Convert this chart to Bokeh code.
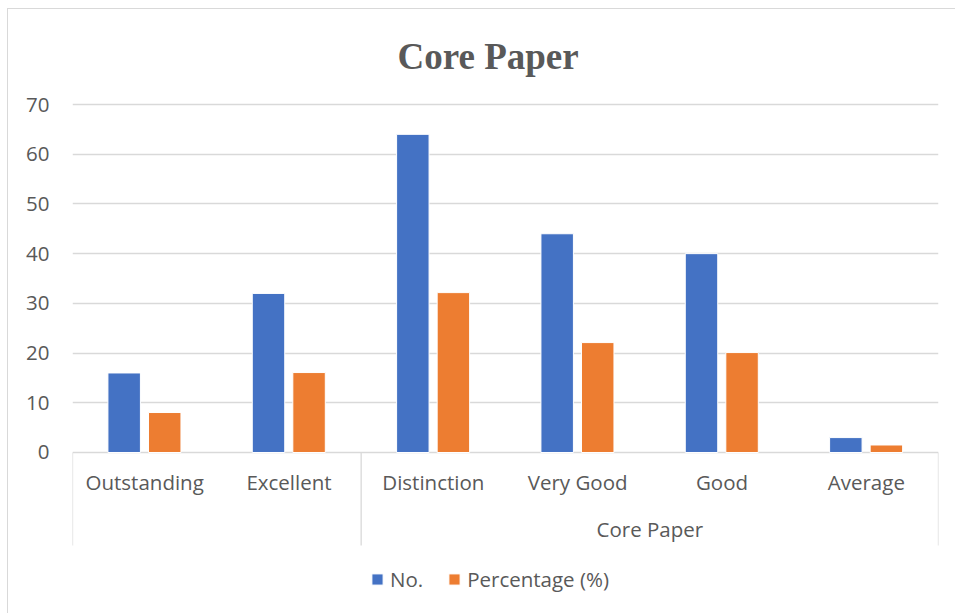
from bokeh.plotting import figure
from bokeh.models import FactorRange, Range1d, FixedTicker, ColumnDataSource, Legend, LegendItem
from bokeh.transform import dodge
from bokeh.core.properties import value
from bokeh.embed import file_html
from bokeh.resources import INLINE

# ---- data ----
categories = ["Outstanding", "Excellent", "Distinction", "Very Good", "Good", "Average"]
groups = ["", "", "Core Paper", "Core Paper", "Core Paper", "Core Paper"]
no_values = [16, 32, 64, 44, 40, 3]
pct_values = [8.04, 16.08, 32.16, 22.11, 20.10, 1.51]
y_ticks = [0, 10, 20, 30, 40, 50, 60, 70]
series_names = ["No.", "Percentage (%)"]
title_text = "Core Paper"
group_label = "Core Paper"

# ---- style ----
BLUE = "#4472C4"
ORANGE = "#ED7D31"
GRAY_TXT = "#595959"
GRID = "#d9d9d9"
FONT = "Open Sans"
FS = "20.5px"

factors = list(zip(groups, categories))
src = ColumnDataSource(dict(x=factors, no=no_values, pct=pct_values, label=categories))

W, H = 948, 605
x_range = FactorRange(*factors, range_padding=0, factor_padding=0, group_padding=0,
                      subgroup_padding=0)
y_range = Range1d(-32.59, 71.21)

p = figure(width=W, height=H, x_range=x_range, y_range=y_range,
           output_backend="svg", toolbar_location=None, x_axis_type=None,
           min_border_left=64, min_border_right=18, min_border_top=89, min_border_bottom=0,
           outline_line_color=None)
p.styles = {"margin-left": "7px", "margin-top": "8px",
            "border-left": "1px solid #d9d9d9", "border-top": "1px solid #d9d9d9"}

p.title.text = title_text
p.title.align = "left"
p.title.text_font = "Liberation Serif"
p.title.text_font_style = "bold"
p.title.text_font_size = "37px"
p.title.text_color = GRAY_TXT
p.title.offset = 325
p.title.standoff = 44

p.xgrid.visible = False
p.ygrid.ticker = FixedTicker(ticks=y_ticks)
p.ygrid.grid_line_color = GRID
p.ygrid.grid_line_width = 1.3

ax = p.yaxis[0]
ax.ticker = FixedTicker(ticks=y_ticks)
ax.bounds = (min(y_ticks), max(y_ticks))
ax.axis_line_color = None
ax.major_tick_line_color = None
ax.minor_tick_line_color = None
ax.major_tick_in = 0
ax.major_tick_out = 0
ax.major_label_standoff = 23
ax.major_label_text_font = FONT
ax.major_label_text_font_size = FS
ax.major_label_text_color = GRAY_TXT

r1 = p.vbar(x=dodge("x", -0.142, range=p.x_range), top="no", width=0.225, source=src,
            fill_color=BLUE, line_color="white", line_width=1)
r2 = p.vbar(x=dodge("x", 0.139, range=p.x_range), top="pct", width=0.225, source=src,
            fill_color=ORANGE, line_color="white", line_width=1)

# category labels
p.text(x="x", y=-5.9, text="label", source=src, text_font=value(FONT),
       text_font_size=FS, text_color=GRAY_TXT, text_align="center",
       text_baseline="middle")
# group label
gsrc = ColumnDataSource(dict(x=[group_label], t=[group_label]))
p.text(x="x", y=-15.3, text="t", source=gsrc, text_font=value(FONT),
       text_font_size=FS, text_color=GRAY_TXT, text_align="center",
       text_baseline="middle")

# separator lines of the multi-level axis
sep_left = ColumnDataSource(dict(x=[factors[0], factors[2]]))
sep_right = ColumnDataSource(dict(x=[factors[-1]]))
p.segment(x0=dodge("x", -0.5, range=p.x_range), x1=dodge("x", -0.5, range=p.x_range),
          y0=0, y1=-18.7, source=sep_left, line_color=GRID, line_width=1.3)
p.segment(x0=dodge("x", 0.5, range=p.x_range), x1=dodge("x", 0.5, range=p.x_range),
          y0=0, y1=-18.7, source=sep_right, line_color=GRID, line_width=1.3)

legend = Legend(items=[LegendItem(label=series_names[0], renderers=[r1]),
                       LegendItem(label=series_names[1], renderers=[r2])],
                orientation="horizontal", location=(298, 21),
                glyph_width=14, glyph_height=14, label_standoff=6, spacing=24,
                padding=0, margin=0, border_line_color=None, background_fill_alpha=0,
                label_text_font=FONT, label_text_font_size=FS,
                label_text_color=GRAY_TXT)
p.add_layout(legend, "center")

open("out.html", "w").write(file_html(p, INLINE))
